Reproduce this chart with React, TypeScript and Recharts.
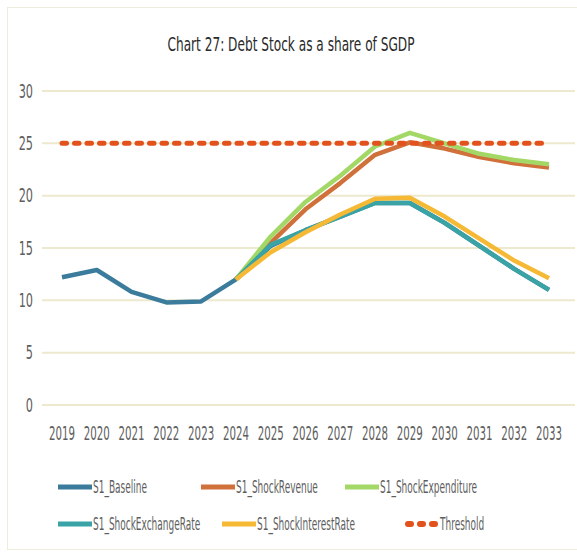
import React from "react";
import { LineChart, Line, XAxis, YAxis, CartesianGrid } from "recharts";

// Years on the horizontal axis
const years = [
  "2019", "2020", "2021", "2022", "2023", "2024", "2025", "2026",
  "2027", "2028", "2029", "2030", "2031", "2032", "2033",
];

// Debt stock as a share of SGDP (%), one list per scenario
const baseline = [12.2, 12.9, 10.8, 9.8, 9.9, 12.0, 15.2, 16.7, 18.0, 19.3, 19.3, 17.4, 15.2, 13.0, 11.0];
const shockRevenue = [null, null, null, null, null, 12.0, 15.5, 18.7, 21.2, 23.9, 25.1, 24.5, 23.7, 23.1, 22.7];
const shockExpenditure = [null, null, null, null, null, 12.0, 16.1, 19.4, 21.9, 24.7, 26.0, 25.0, 24.0, 23.4, 23.0];
const shockExchangeRate = [null, null, null, null, null, 12.0, 15.3, 16.7, 18.0, 19.3, 19.3, 17.4, 15.2, 13.0, 11.0];
const shockInterestRate = [null, null, null, null, null, 12.0, 14.6, 16.5, 18.2, 19.7, 19.8, 18.0, 15.9, 13.8, 12.1];
const threshold = [25, 25, 25, 25, 25, 25, 25, 25, 25, 25, 25, 25, 25, 25, 25];

const yTicks = [0, 5, 10, 15, 20, 25, 30];

const seriesNames = [
  "S1_Baseline",
  "S1_ShockRevenue",
  "S1_ShockExpenditure",
  "S1_ShockExchangeRate",
  "S1_ShockInterestRate",
  "Threshold",
];
const seriesValues = [baseline, shockRevenue, shockExpenditure, shockExchangeRate, shockInterestRate, threshold];
const seriesColors = ["#3b7c9c", "#d0703a", "#a3d866", "#3aa3a6", "#f6b935", "#e2521c"];

const data = years.map((year, i) => {
  const row: Record<string, string | number | null> = { year };
  seriesNames.forEach((name, s) => {
    row[name] = seriesValues[s][i];
  });
  return row;
});

const FONT = "'DejaVu Sans Condensed', 'DejaVu Sans', sans-serif";
const TICK_COLOR = "#5e5e5e";

const XTick = (props: any) => {
  const { x, y, payload } = props;
  return (
    <g transform={`translate(${x},${y}) scale(0.6,1)`}>
      <text textAnchor="middle" dy="0.71em" fontFamily={FONT} fontSize={19} fill={TICK_COLOR}>
        {payload.value}
      </text>
    </g>
  );
};

const YTick = (props: any) => {
  const { x, y, payload } = props;
  return (
    <g transform={`translate(${x},${y}) scale(0.66,1)`}>
      <text textAnchor="end" dy="0.35em" fontFamily={FONT} fontSize={19} fill={TICK_COLOR}>
        {payload.value}
      </text>
    </g>
  );
};

// Legend placement: [line start x, row y]
const legendSlots: [number, number][] = [
  [58, 487],
  [201, 487],
  [345, 487],
  [58, 524],
  [222, 524],
  [405, 524],
];

const LegendBlock = () => (
  <svg width={577} height={557} style={{ position: "absolute", left: 0, top: 0, pointerEvents: "none" }}>
    {seriesNames.map((name, i) => {
      const [lx, ly] = legendSlots[i];
      const dashed = name === "Threshold";
      return (
        <g key={name}>
          <line
            x1={lx + (dashed ? 3 : 0)}
            x2={lx + (dashed ? 30 : 34)}
            y1={ly}
            y2={ly}
            stroke={seriesColors[i]}
            strokeWidth={dashed ? 6 : 5}
            strokeDasharray={dashed ? "3 9" : undefined}
            strokeLinecap={dashed ? "round" : "butt"}
          />
          <g transform={`translate(${lx + 35},${ly}) scale(0.57,1)`}>
            <text dy="0.35em" fontFamily={FONT} fontSize={17.5} fill={TICK_COLOR}>
              {name}
            </text>
          </g>
        </g>
      );
    })}
  </svg>
);

export default function App() {
  return (
    <div style={{ position: "absolute", left: 0, top: 0, width: 577, height: 557, background: "#ffffff" }}>
      <div
        style={{
          position: "absolute",
          left: 7,
          top: 7,
          width: 580,
          height: 541,
          border: "1px solid #eeecdc",
        }}
      />
      <svg width={577} height={70} style={{ position: "absolute", left: 0, top: 0 }}>
        <text
          x={291}
          y={44}
          textAnchor="middle"
          dy="0.35em"
          fontFamily={FONT}
          fontSize={20}
          fill="#2a2a2a"
          textLength={247}
          lengthAdjust="spacingAndGlyphs"
        >
          Chart 27: Debt Stock as a share of SGDP
        </text>
      </svg>
      <div style={{ position: "absolute", left: 0, top: 0 }}>
        <LineChart
          width={577}
          height={557}
          data={data}
          margin={{ top: 91, right: 2, bottom: 122, left: 0 }}
        >
          <CartesianGrid vertical={false} stroke="#ece9cf" strokeWidth={2} />
          <XAxis
            dataKey="year"
            height={30}
            axisLine={false}
            tickLine={false}
            tickSize={0}
            tickMargin={22}
            padding={{ left: 20, right: 26 }}
            interval={0}
            tick={<XTick />}
          />
          <YAxis
            width={42}
            domain={[0, 30]}
            ticks={yTicks}
            axisLine={false}
            tickLine={false}
            tickSize={0}
            tickMargin={9}
            tick={<YTick />}
          />
          {seriesNames.map((name, i) => {
            const dashed = name === "Threshold";
            return (
              <Line
                key={name}
                type="linear"
                dataKey={name}
                stroke={seriesColors[i]}
                strokeWidth={dashed ? 5 : 4.5}
                strokeDasharray={dashed ? "4.5 8" : undefined}
                strokeLinecap={dashed ? "round" : "butt"}
                strokeLinejoin="round"
                dot={false}
                activeDot={false}
                connectNulls={false}
                isAnimationActive={false}
              />
            );
          })}
        </LineChart>
      </div>
      <LegendBlock />
    </div>
  );
}
